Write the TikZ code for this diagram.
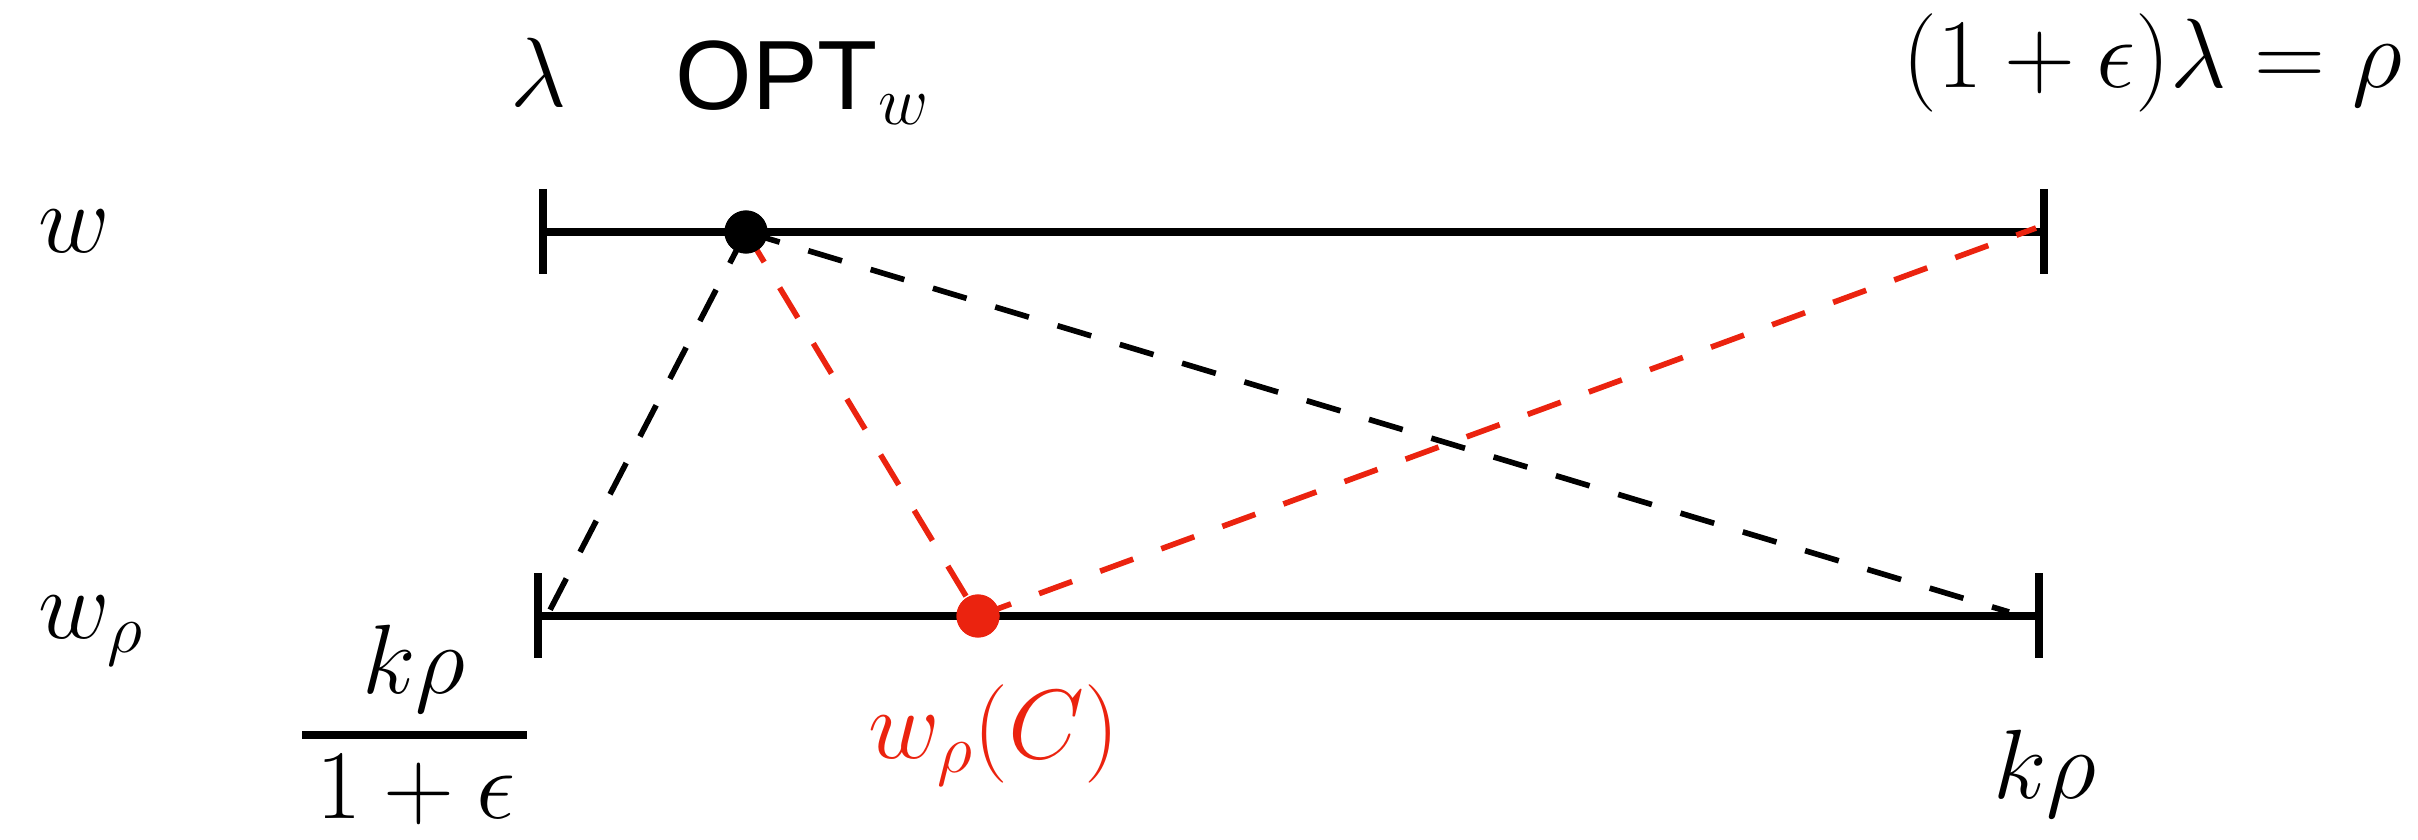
\RequirePackage{fix-cm}
\documentclass[tikz,border=0pt]{standalone}
\usepackage{fontspec}
\newfontfamily\helv{Liberation Sans}
\definecolor{myred}{RGB}{235,35,15}
\begin{document}
\begin{tikzpicture}[x=0.01cm,y=-0.01cm,
  lbl/.style={inner sep=0pt,font=\fontsize{28}{34}\selectfont},
  axisline/.style={line width=2.2pt},
  dsh/.style={line width=1.6pt,dash pattern=on 10pt off 8.5pt},
  dot/.style={circle,fill,inner sep=0pt,minimum size=0.43cm}]
\useasboundingbox (0,0) rectangle (2418,840);
% labels
\node[lbl,anchor=base] (lam) at (539,107) {$\lambda$};
\node[lbl,anchor=base west] (opt) at (675,110) {{\helv OPT}$_w$};
\node[lbl,anchor=base east] (rho) at (2403,88) {$(1+\epsilon)\lambda=\rho$};
\node[lbl,anchor=base west] (w) at (38,253) {$w$};
\node[lbl,anchor=base west] (wr) at (38,638) {$w_\rho$};
\node[lbl,anchor=base] (num) at (414,693) {$k\rho$};
\node[lbl,anchor=base] (den) at (416,818) {$1+\epsilon$};
\node[lbl,anchor=base,text=myred] (wc) at (994,758) {$w_\rho(C)$};
\node[lbl,anchor=base] (krho) at (2045,798) {$k\rho$};
% fraction bar
\coordinate (fb1) at (302,735);
\coordinate (fb2) at (527,735);
\draw[line width=2pt] (fb1) -- (fb2);
% axes
\coordinate (t1a) at (543,189); \coordinate (t1b) at (543,274);
\coordinate (t2a) at (2044,189); \coordinate (t2b) at (2044,274);
\coordinate (tl) at (543,232); \coordinate (tr) at (2044,232);
\coordinate (b1a) at (538,573); \coordinate (b1b) at (538,658);
\coordinate (b2a) at (2039,573); \coordinate (b2b) at (2039,658);
\coordinate (bl) at (538,616); \coordinate (brr) at (2039,616);
\draw[axisline] (t1a) -- (t1b);
\draw[axisline] (t2a) -- (t2b);
\draw[axisline] (tl) -- (tr);
\draw[axisline] (b1a) -- (b1b);
\draw[axisline] (b2a) -- (b2b);
\draw[axisline] (bl) -- (brr);
% dots
\node[dot] (optdot) at (746,232) {};
\node[dot,fill=myred] (cdot) at (978,616) {};
% dashed connectors
\coordinate (ebl) at (550,610);
\coordinate (ebr) at (2009,612);
\coordinate (etr) at (2036,228);
\draw[dsh] (optdot.center) -- (ebl);
\draw[dsh] (optdot.center) -- (ebr);
\draw[dsh,myred] (optdot.center) -- (cdot.center);
\draw[dsh,myred] (cdot.center) -- (etr);
\node[dot] at (optdot.center) {};
\node[dot,fill=myred] at (cdot.center) {};
\end{tikzpicture}
\end{document}
